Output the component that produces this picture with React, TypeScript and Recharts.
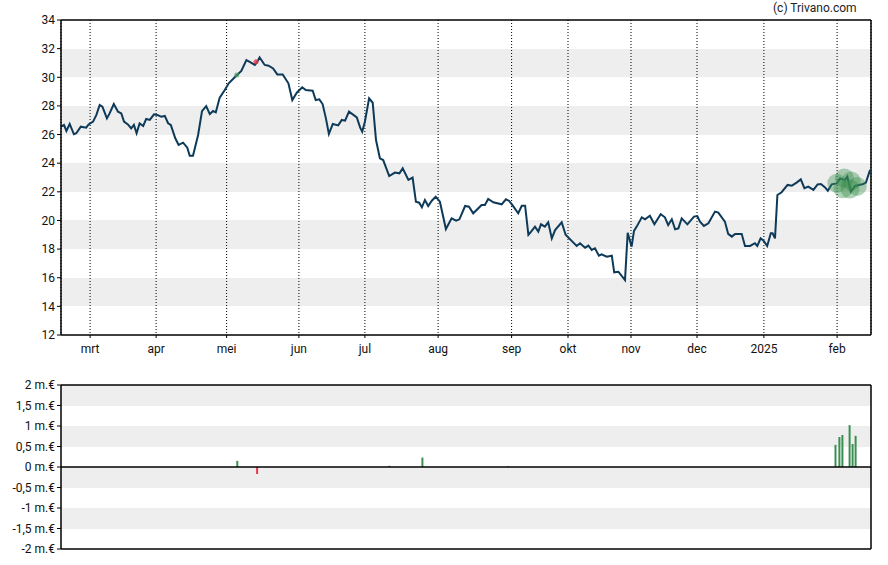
import React from 'react';
import { ComposedChart, Line, Bar, Cell, Scatter, XAxis, YAxis, CartesianGrid, ReferenceLine } from 'recharts';

// x = trading-day position on the time axis, v = price in euro
const priceData = [
  { x: 0, v: 26.55 }, { x: 1.0, v: 26.67 }, { x: 1.8, v: 26.25 }, { x: 2.9, v: 26.74 }, { x: 4.3, v: 26.02 },
  { x: 5.1, v: 26.09 }, { x: 6.6, v: 26.55 }, { x: 8.4, v: 26.48 }, { x: 9.2, v: 26.71 }, { x: 10.7, v: 26.9 },
  { x: 11.8, v: 27.37 }, { x: 12.9, v: 28.06 }, { x: 13.8, v: 27.95 }, { x: 15.3, v: 27.13 }, { x: 16.2, v: 27.48 },
  { x: 17.6, v: 28.13 }, { x: 19.0, v: 27.6 }, { x: 20.1, v: 27.48 }, { x: 21.0, v: 26.9 }, { x: 22.3, v: 26.71 },
  { x: 23.4, v: 26.43 }, { x: 24.3, v: 26.67 }, { x: 25.2, v: 26.09 }, { x: 26.2, v: 26.78 }, { x: 27.4, v: 26.6 },
  { x: 28.4, v: 27.09 }, { x: 29.6, v: 27.02 }, { x: 31.0, v: 27.41 }, { x: 32.1, v: 27.37 }, { x: 33.4, v: 27.25 },
  { x: 34.6, v: 27.3 }, { x: 35.7, v: 26.79 }, { x: 36.6, v: 26.67 }, { x: 38.1, v: 25.74 }, { x: 39.2, v: 25.27 },
  { x: 40.7, v: 25.43 }, { x: 42.1, v: 25.08 }, { x: 42.9, v: 24.52 }, { x: 44.0, v: 24.52 }, { x: 45.7, v: 25.97 },
  { x: 47.0, v: 27.64 }, { x: 48.4, v: 27.99 }, { x: 49.6, v: 27.43 }, { x: 50.7, v: 27.64 }, { x: 51.6, v: 27.55 },
  { x: 52.9, v: 28.58 }, { x: 54.6, v: 29.11 }, { x: 55.9, v: 29.58 }, { x: 57.9, v: 30.0 }, { x: 60.1, v: 30.44 },
  { x: 61.8, v: 31.2 }, { x: 63.2, v: 31.04 }, { x: 64.6, v: 30.86 }, { x: 65.3, v: 31.04 }, { x: 66.2, v: 31.39 },
  { x: 67.9, v: 30.86 }, { x: 69.2, v: 30.81 }, { x: 70.7, v: 30.62 }, { x: 72.1, v: 30.2 }, { x: 73.9, v: 30.2 },
  { x: 75.8, v: 29.58 }, { x: 77.1, v: 28.41 }, { x: 78.6, v: 28.92 }, { x: 80.4, v: 29.3 }, { x: 81.6, v: 29.11 },
  { x: 83.9, v: 29.06 }, { x: 84.9, v: 28.41 }, { x: 86.1, v: 28.46 }, { x: 87.2, v: 28.13 }, { x: 88.3, v: 27.13 },
  { x: 89.3, v: 26.04 }, { x: 90.6, v: 26.74 }, { x: 92.4, v: 26.64 }, { x: 93.6, v: 27.02 }, { x: 94.7, v: 26.97 },
  { x: 96.0, v: 27.6 }, { x: 98.6, v: 27.2 }, { x: 99.7, v: 26.5 }, { x: 100.4, v: 26.2 }, { x: 101.3, v: 26.9 },
  { x: 102.7, v: 28.53 }, { x: 103.9, v: 28.22 }, { x: 105.0, v: 25.62 }, { x: 106.3, v: 24.34 }, { x: 107.4, v: 24.22 },
  { x: 109.4, v: 23.1 }, { x: 111.3, v: 23.34 }, { x: 112.8, v: 23.29 }, { x: 113.9, v: 23.64 }, { x: 115.8, v: 22.83 },
  { x: 117.2, v: 22.99 }, { x: 118.3, v: 21.31 }, { x: 119.4, v: 21.24 }, { x: 120.3, v: 20.92 }, { x: 121.3, v: 21.43 },
  { x: 122.4, v: 21.01 }, { x: 123.6, v: 21.38 }, { x: 124.9, v: 21.66 }, { x: 126.3, v: 21.31 }, { x: 128.3, v: 19.4 },
  { x: 130.2, v: 20.15 }, { x: 131.7, v: 19.98 }, { x: 132.8, v: 20.08 }, { x: 134.7, v: 21.01 }, { x: 136.0, v: 20.96 },
  { x: 137.4, v: 20.5 }, { x: 140.2, v: 21.08 }, { x: 141.3, v: 21.08 }, { x: 142.4, v: 21.5 }, { x: 144.1, v: 21.27 },
  { x: 146.9, v: 21.13 }, { x: 148.3, v: 21.48 }, { x: 149.4, v: 21.36 }, { x: 150.6, v: 21.03 }, { x: 152.4, v: 20.5 },
  { x: 153.6, v: 21.03 }, { x: 154.7, v: 21.03 }, { x: 155.8, v: 19.0 }, { x: 156.7, v: 19.22 }, { x: 158.0, v: 19.57 },
  { x: 159.1, v: 19.22 }, { x: 160.0, v: 19.73 }, { x: 161.3, v: 19.57 }, { x: 162.4, v: 19.87 }, { x: 163.6, v: 18.75 },
  { x: 164.7, v: 19.33 }, { x: 166.9, v: 19.87 }, { x: 168.2, v: 19.0 }, { x: 170.8, v: 18.45 }, { x: 171.9, v: 18.22 },
  { x: 173.0, v: 18.41 }, { x: 174.7, v: 18.1 }, { x: 175.8, v: 18.24 }, { x: 176.9, v: 17.94 }, { x: 178.0, v: 18.06 },
  { x: 179.3, v: 17.54 }, { x: 180.2, v: 17.64 }, { x: 181.9, v: 17.47 }, { x: 183.6, v: 17.54 }, { x: 184.4, v: 16.38 },
  { x: 185.8, v: 16.42 }, { x: 188.0, v: 15.84 }, { x: 188.9, v: 19.14 }, { x: 190.2, v: 18.17 }, { x: 191.0, v: 19.27 },
  { x: 191.9, v: 19.57 }, { x: 193.6, v: 20.22 }, { x: 194.7, v: 20.08 }, { x: 196.3, v: 20.33 }, { x: 197.8, v: 19.73 },
  { x: 199.9, v: 20.43 }, { x: 201.3, v: 20.22 }, { x: 202.4, v: 19.68 }, { x: 203.6, v: 20.08 }, { x: 204.7, v: 19.38 },
  { x: 205.8, v: 19.45 }, { x: 206.9, v: 20.15 }, { x: 208.8, v: 19.73 }, { x: 211.0, v: 20.27 }, { x: 212.1, v: 20.31 },
  { x: 213.0, v: 19.92 }, { x: 214.3, v: 19.62 }, { x: 215.8, v: 19.8 }, { x: 218.0, v: 20.62 }, { x: 219.1, v: 20.55 },
  { x: 221.3, v: 19.92 }, { x: 222.4, v: 19.06 }, { x: 223.6, v: 18.87 }, { x: 224.7, v: 19.06 }, { x: 226.9, v: 19.06 },
  { x: 228.0, v: 18.22 }, { x: 229.7, v: 18.22 }, { x: 231.3, v: 18.41 }, { x: 232.1, v: 18.22 }, { x: 233.2, v: 18.75 },
  { x: 234.3, v: 18.56 }, { x: 235.4, v: 18.22 }, { x: 236.6, v: 19.1 }, { x: 237.2, v: 19.1 }, { x: 238.0, v: 18.75 },
  { x: 238.8, v: 21.78 }, { x: 240.2, v: 21.97 }, { x: 242.2, v: 22.48 }, { x: 243.6, v: 22.43 }, { x: 245.2, v: 22.64 },
  { x: 246.6, v: 22.87 }, { x: 247.8, v: 22.25 }, { x: 249.1, v: 22.36 }, { x: 250.8, v: 22.13 }, { x: 252.2, v: 22.52 },
  { x: 253.3, v: 22.55 }, { x: 254.7, v: 22.31 }, { x: 255.6, v: 22.08 }, { x: 256.9, v: 22.52 }, { x: 258.6, v: 22.59 },
  { x: 259.7, v: 22.94 }, { x: 261.3, v: 22.82 }, { x: 262.1, v: 23.06 }, { x: 263.3, v: 22.01 }, { x: 264.7, v: 22.41 },
  { x: 267.4, v: 22.55 }, { x: 268.3, v: 22.64 }, { x: 269.7, v: 23.53 },
];

// insider / signal bubbles near the end
const bubbles = [
  { x: 258.6, v: 22.6 }, { x: 261.1, v: 22.97 }, { x: 263.4, v: 22.75 }, { x: 265.4, v: 22.38 }, { x: 260.6, v: 22.22 },
  { x: 263.0, v: 22.2 },
];
const buyMarks = [{ x: 58.6, v: 30.16 }];
const sellMarks = [{ x: 65.0, v: 31.09 }];

// net volume in million euro
const volumeData = [
  { x: 58.6, m: 0.15 }, { x: 65.2, m: -0.17 }, { x: 109.3, m: 0.03 }, { x: 120.3, m: 0.23 }, { x: 148.9, m: 0.02 },
  { x: 258.0, m: 0.54 }, { x: 259.3, m: 0.73 }, { x: 260.3, m: 0.78 }, { x: 262.7, m: 1.02 }, { x: 263.7, m: 0.56 },
  { x: 264.7, m: 0.76 },
];

const monthTicks = [9.7, 31.7, 55.2, 79.3, 101.3, 125.7, 150.2, 169, 190, 212, 234.3, 258.7];
const monthLabels = ['mrt', 'apr', 'mei', 'jun', 'jul', 'aug', 'sep', 'okt', 'nov', 'dec', '2025', 'feb'];
const priceTicks = [12, 14, 16, 18, 20, 22, 24, 26, 28, 30, 32, 34];
const volumeTicks = [-2, -1.5, -1, -0.5, 0, 0.5, 1, 1.5, 2];

const tickStyle = { fontSize: 12, fill: '#111', fontFamily: 'Roboto' };
const border = { stroke: '#000', strokeWidth: 1.5 };

const App = () => {
  const fmtMonth = (v: number) => monthLabels[monthTicks.indexOf(v)] ?? '';
  const fmtVol = (v: number) => `${String(v).replace('.', ',')} m.€`;

  return (
    <div style={{ position: 'absolute', left: 0, top: 0, width: 888, height: 565, background: '#fff', fontFamily: 'Roboto' }}>
      <div style={{ position: 'absolute', left: 773, top: 1, fontSize: 12, color: '#222' }}>(c) Trivano.com</div>

      <div style={{ position: 'absolute', left: 0, top: 0 }}>
        <ComposedChart width={888} height={365} data={priceData} margin={{ top: 20, right: 17, bottom: 0, left: 0 }}>
          <CartesianGrid horizontal vertical={false} stroke="none" horizontalFill={['#ffffff', '#eeeeee']} fillOpacity={1} />
          <CartesianGrid horizontal={false} vertical stroke="#000" strokeDasharray="1 2" />
          <XAxis
            dataKey="x"
            type="number"
            domain={[0, 270]}
            ticks={monthTicks}
            tickFormatter={fmtMonth}
            tick={tickStyle}
            tickSize={3}
            tickMargin={6}
            height={30}
            axisLine={border}
            tickLine={{ stroke: '#000' }}
            interval={0}
          />
          <YAxis
            type="number"
            domain={[12, 34]}
            ticks={priceTicks}
            tick={tickStyle}
            tickSize={4}
            width={61}
            interval={0}
            axisLine={border}
            tickLine={{ stroke: '#000' }}
          />
          <ReferenceLine y={34} {...border} />
          <ReferenceLine x={270} {...border} />
          <Line type="linear" dataKey="v" stroke="#0e3a5a" strokeWidth={2} dot={false} isAnimationActive={false} />
          <Scatter
            data={buyMarks}
            dataKey="v"
            isAnimationActive={false}
            shape={(p: any) => <circle cx={p.cx} cy={p.cy} r={2.5} fill="#4a9a5a" fillOpacity={0.7} />}
          />
          <Scatter
            data={sellMarks}
            dataKey="v"
            isAnimationActive={false}
            shape={(p: any) => <circle cx={p.cx} cy={p.cy} r={2.5} fill="#e8384f" fillOpacity={0.8} />}
          />
          <Scatter
            data={bubbles}
            dataKey="v"
            isAnimationActive={false}
            shape={(p: any) => <circle cx={p.cx} cy={p.cy} r={9.5} fill="#3a8f4e" fillOpacity={0.4} />}
          />
        </ComposedChart>
      </div>

      <div style={{ position: 'absolute', left: 0, top: 365 }}>
        <ComposedChart width={888} height={200} data={volumeData} margin={{ top: 20, right: 17, bottom: 16, left: 0 }}>
          <CartesianGrid horizontal vertical={false} stroke="none" horizontalFill={['#eeeeee', '#ffffff']} fillOpacity={1} />
          <XAxis dataKey="x" type="number" domain={[0, 270]} hide />
          <YAxis
            type="number"
            domain={[-2, 2]}
            ticks={volumeTicks}
            tickFormatter={fmtVol}
            tick={tickStyle}
            tickSize={4}
            width={61}
            interval={0}
            axisLine={border}
            tickLine={{ stroke: '#000' }}
          />
          <ReferenceLine y={2} {...border} />
          <ReferenceLine y={-2} {...border} />
          <ReferenceLine x={270} {...border} />
          <ReferenceLine y={0} {...border} />
          <Bar dataKey="m" barSize={2} isAnimationActive={false}>
            {volumeData.map((d, i) => (
              <Cell key={i} fill={d.m >= 0 ? '#3a8f50' : '#e8384f'} />
            ))}
          </Bar>
        </ComposedChart>
      </div>
    </div>
  );
};

export default App;
